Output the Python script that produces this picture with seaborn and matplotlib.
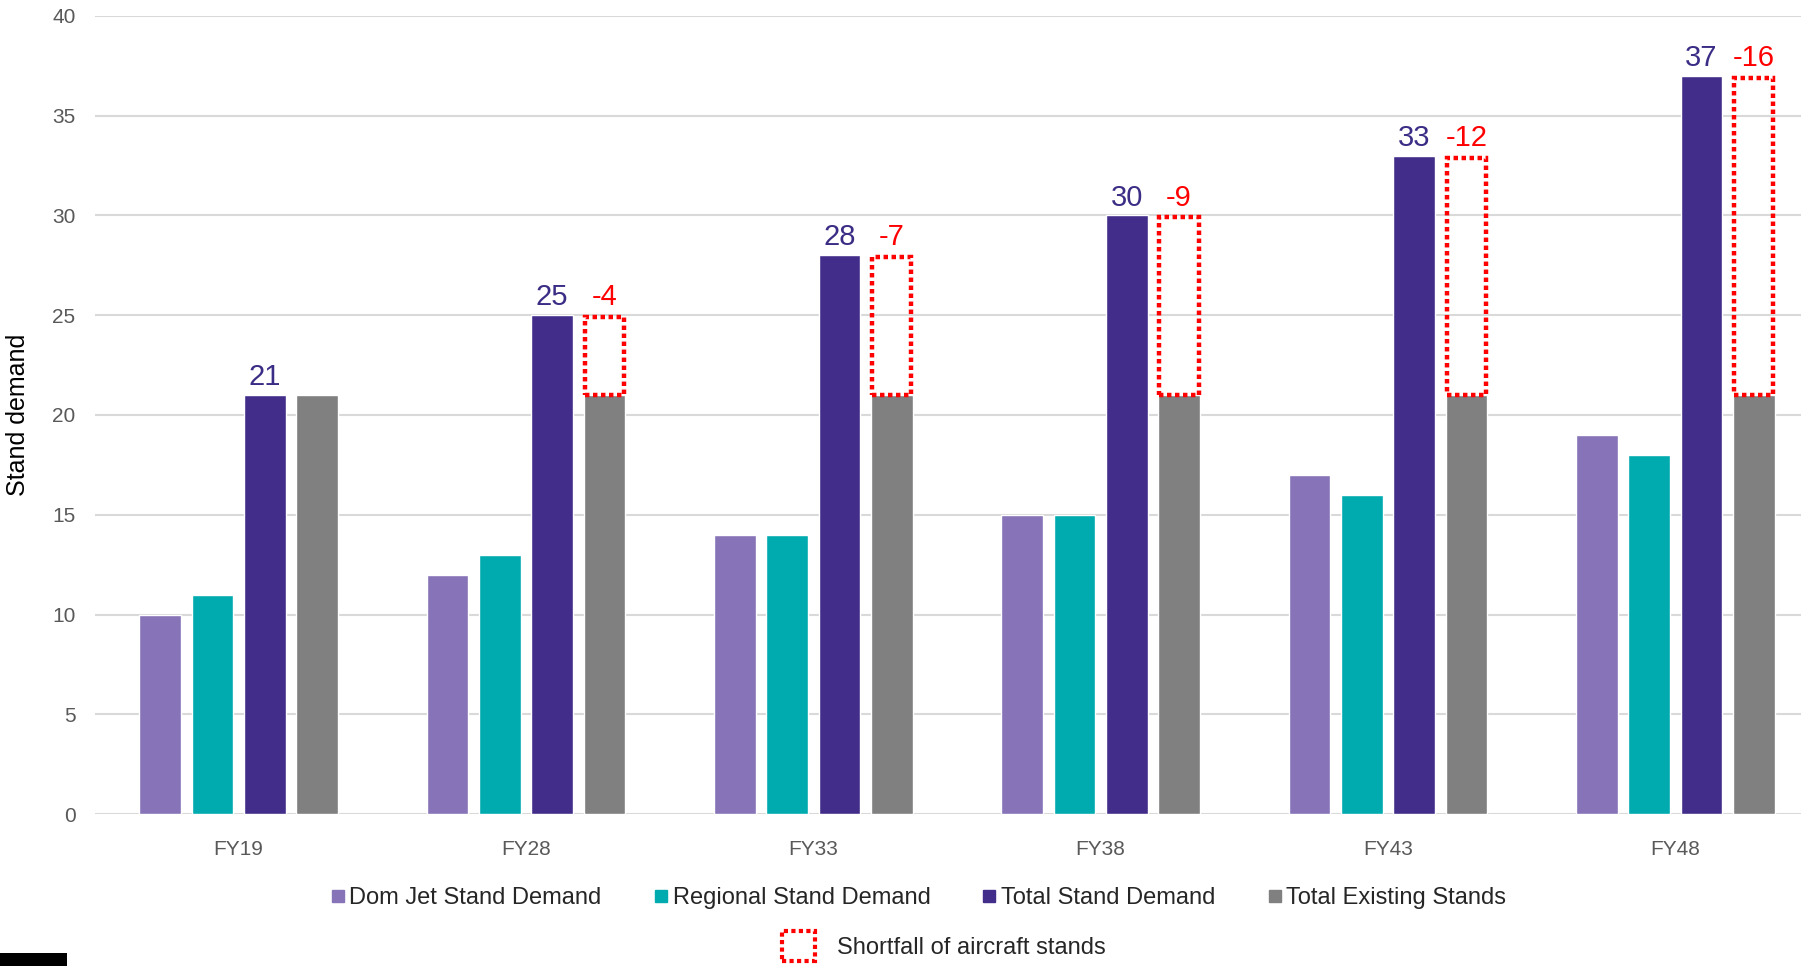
import matplotlib
matplotlib.use("Agg")
import matplotlib.pyplot as plt
import seaborn as sns
import pandas as pd
import numpy as np
from matplotlib.patches import Rectangle
from matplotlib.lines import Line2D

categories = ["FY19", "FY28", "FY33", "FY38", "FY43", "FY48"]
dom_jet = [10, 12, 14, 15, 17, 19]
regional = [11, 13, 14, 15, 16, 18]
total_demand = [21, 25, 28, 30, 33, 37]
existing = [21, 21, 21, 21, 21, 21]
shortfall_labels = ["", "-4", "-7", "-9", "-12", "-16"]

series_names = ["Dom Jet Stand Demand", "Regional Stand Demand",
                "Total Stand Demand", "Total Existing Stands"]
colors = ["#8673b8", "#00abb0", "#432d8a", "#808080"]
y_ticks = [0, 5, 10, 15, 20, 25, 30, 35, 40]

sns.set_theme(style="white")
plt.rcParams["font.family"] = ["Liberation Sans", "DejaVu Sans"]

rows = []
for s, vals in zip(series_names, [dom_jet, regional, total_demand, existing]):
    for c, v in zip(categories, vals):
        rows.append({"Year": c, "Series": s, "Value": v})
df = pd.DataFrame(rows)

W, H = 1801, 966
fig = plt.figure(figsize=(W / 100, H / 100), dpi=100)
ax = fig.add_axes([95 / W, (H - 814) / H, (1819 - 95) / W, (814 - 16) / H])

sns.barplot(data=df, x="Year", y="Value", hue="Series", hue_order=series_names,
            palette=colors, width=0.728, gap=0.2, saturation=1, legend=False,
            order=categories, ax=ax)

ax.set_ylim(0, 40)
ax.set_xlim(-0.5, 5.5)
ax.set_yticks(y_ticks)
ax.yaxis.grid(True, color="#d9d9d9", linewidth=1.5)
ax.xaxis.grid(False)
ax.set_axisbelow(True)
for sp in ax.spines.values():
    sp.set_visible(False)
ax.axhline(0, color="#d0d0d0", linewidth=2, zorder=0.5)
ax.tick_params(axis="both", length=0, labelsize=15, labelcolor="#595959")
ax.tick_params(axis="x", pad=19)
ax.tick_params(axis="y", pad=14)
ax.set_xlabel("")
ax.set_ylabel("Stand demand", fontsize=18, color="black", labelpad=16)

# labels on total bars
tot_cont = ax.containers[2]
for bar, v in zip(tot_cont, total_demand):
    ax.text(bar.get_x() + bar.get_width() / 2, v + 0.2, f"{v}",
            ha="center", va="bottom", fontsize=21, color="#3b2d85")

# shortfall dashed boxes
ex_cont = ax.containers[3]
for bar, t, e, lab in zip(ex_cont, total_demand, existing, shortfall_labels):
    if t - e <= 0:
        continue
    w = bar.get_width()
    x0 = bar.get_x() + w * 0.03
    ax.add_patch(Rectangle((x0, e), w * 0.94, t - e - 0.1, fill=False,
                           edgecolor="#ff0000", linestyle=(0, (1, 0.8)),
                           linewidth=3.2, zorder=5))
    ax.text(bar.get_x() + w / 2, t + 0.2, lab, ha="center", va="bottom",
            fontsize=21, color="#ff0000")

# legends
handles = [Line2D([0], [0], marker="s", linestyle="none", markersize=9,
                  markerfacecolor=c, markeredgecolor=c) for c in colors]
leg1 = fig.legend(handles, series_names, loc="center", ncol=4,
                  bbox_to_anchor=(0.51, (H - 898) / H), frameon=False,
                  fontsize=17, handlelength=0.6, handletextpad=0.2,
                  columnspacing=2.2)
box_handle = Rectangle((0, 0), 1, 1, fill=False, edgecolor="#ff0000",
                       linestyle=(0, (1, 0.8)), linewidth=3)
leg2 = fig.legend([box_handle], ["Shortfall of aircraft stands"], loc="center",
                  bbox_to_anchor=(0.524, (H - 946) / H), frameon=False,
                  fontsize=17, handlelength=1.4, handleheight=1.6,
                  handletextpad=0.9)

# black block at bottom-left
fig.patches.append(Rectangle((0, 0), 67 / W, 13 / H, transform=fig.transFigure,
                             facecolor="black", edgecolor="none"))

fig.savefig("out.png", dpi=100)
